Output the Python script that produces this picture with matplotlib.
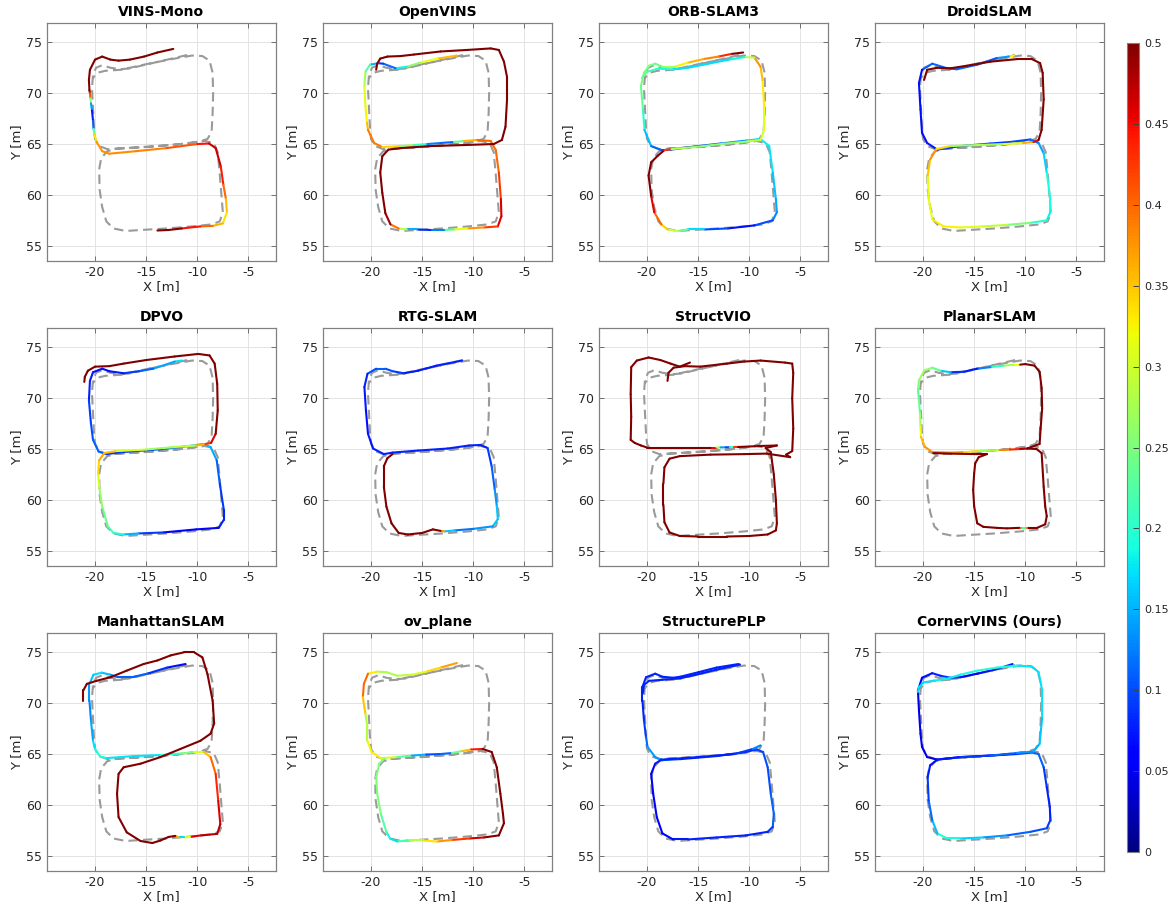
import numpy as np
import matplotlib
matplotlib.use("Agg")
import matplotlib.pyplot as plt
from matplotlib.collections import LineCollection
from matplotlib.colors import Normalize
from matplotlib.cm import ScalarMappable

plt.rcParams['font.family'] = ['DejaVu Sans']

NaN = float('nan')
BRK = (NaN, NaN, NaN)

titles = ["VINS-Mono", "OpenVINS", "ORB-SLAM3", "DroidSLAM",
          "DPVO", "RTG-SLAM", "StructVIO", "PlanarSLAM",
          "ManhattanSLAM", "ov_plane", "StructurePLP", "CornerVINS (Ours)"]

x_ticks = [-20, -15, -10, -5]
y_ticks = [55, 60, 65, 70, 75]
cbar_ticks = [0, 0.05, 0.1, 0.15, 0.2, 0.25, 0.3, 0.35, 0.4, 0.45, 0.5]
cbar_labels = ["0", "0.05", "0.1", "0.15", "0.2", "0.25", "0.3", "0.35", "0.4", "0.45", "0.5"]

# ground truth (dashed grey)
gt_x = [-11.0, -12.5, -14.0, -15.5, -16.5, -17.5, -18.5, -19.3, -19.9, -20.2, -20.3, -20.2, -20.1, -20.0,
        -19.6, -18.8, -17.0, -14.0, -11.0, -9.3, -8.4, -8.0, -7.8, -7.6, -7.5, -7.8, -8.6,
        -10.5, -13.0, -15.5, -17.0, -18.2, -18.9, -19.3, -19.55, -19.6, -19.4, -18.8, -17.8,
        -15.0, -12.0, -9.8, -9.0, -8.6, -8.5, -8.45, -8.5, -8.8, -9.5,
        -10.5, -12.5, -15.0, -17.5, -19.0, -19.8, -20.2]
gt_y = [73.75, 73.4, 73.05, 72.7, 72.45, 72.35, 72.5, 72.75, 72.5, 71.8, 70.5, 68.5, 66.5, 65.5,
        64.8, 64.5, 64.6, 64.8, 65.05, 65.3, 65.1, 64.2, 62.0, 59.5, 58.3, 57.4, 57.1,
        56.9, 56.7, 56.55, 56.45, 56.7, 57.4, 58.8, 60.5, 62.5, 63.6, 64.3, 64.55,
        64.7, 64.95, 65.25, 65.5, 66.2, 68.0, 70.0, 72.0, 73.2, 73.65,
        73.7, 73.35, 72.85, 72.3, 72.2, 72.0, 71.5]

# estimated trajectories: (x, y, error)
vins_mono = [(-12.35, 74.35, 0.55), (-13.9, 74.0, 0.55), (-15.2, 73.6, 0.55), (-16.6, 73.3, 0.55),
             (-17.7, 73.2, 0.55), (-18.5, 73.3, 0.55), (-19.3, 73.6, 0.55), (-20.0, 73.3, 0.55),
             (-20.5, 72.3, 0.55), (-20.6, 71.3, 0.55), (-20.55, 70.3, 0.52), (-20.5, 70.0, 0.5),
             (-20.45, 69.5, 0.32), (-20.4, 69.0, 0.2), (-20.3, 68.3, 0.08), (-20.2, 67.3, 0.07),
             (-20.15, 66.5, 0.15), (-20.05, 65.9, 0.3), (-19.85, 65.2, 0.37), (-19.3, 64.3, 0.38),
             (-18.6, 64.05, 0.38), (-16.0, 64.3, 0.38), (-13.0, 64.6, 0.39), (-10.0, 65.0, 0.43),
             (-8.85, 65.05, 0.46), (-8.2, 64.6, 0.47), (-7.7, 62.8, 0.46), (-7.45, 61.0, 0.42),
             (-7.2, 59.6, 0.38), (-7.1, 58.3, 0.33), (-7.5, 57.2, 0.34), (-8.5, 56.95, 0.38),
             (-9.7, 56.9, 0.42), (-11.5, 56.7, 0.47), (-12.8, 56.55, 0.52), (-13.9, 56.5, 0.55)]

openvins = [(-11.6, 73.7, 0.37), (-13.5, 73.4, 0.34), (-15.2, 73.0, 0.3), (-16.5, 72.6, 0.22),
            (-17.6, 72.45, 0.15), (-18.8, 72.9, 0.08), (-19.3, 72.95, 0.1), (-20.1, 72.8, 0.2),
            (-20.55, 72.1, 0.25), (-20.65, 70.7, 0.3), (-20.55, 68.7, 0.32), (-20.4, 67.1, 0.33),
            (-20.3, 66.4, 0.38), (-19.7, 65.1, 0.4), (-18.9, 64.7, 0.38), (-17.1, 64.8, 0.3),
            (-15.8, 64.9, 0.24), (-14.5, 65.0, 0.17), (-13.2, 65.1, 0.08), (-11.9, 65.2, 0.15),
            (-10.9, 65.3, 0.32), (-9.6, 65.4, 0.4), (-8.3, 65.3, 0.4), (-7.8, 64.4, 0.4),
            (-7.5, 62.2, 0.4), (-7.3, 59.6, 0.45), (-7.25, 57.9, 0.47), (-7.6, 56.9, 0.45),
            (-8.95, 56.8, 0.4), (-10.6, 56.7, 0.35), (-11.9, 56.6, 0.28), (-12.9, 56.55, 0.18),
            (-14.2, 56.55, 0.07), (-15.5, 56.6, 0.1), (-16.5, 56.6, 0.2), (-17.3, 56.7, 0.37),
            (-18.1, 57.1, 0.42), (-18.6, 58.2, 0.55), (-18.9, 60.2, 0.55), (-19.1, 62.2, 0.55),
            (-18.9, 63.8, 0.55), (-18.3, 64.45, 0.55), (-17.1, 64.6, 0.55), (-14.2, 64.8, 0.55),
            (-10.9, 64.9, 0.55), (-8.0, 65.0, 0.55), (-7.2, 65.4, 0.55), (-6.85, 66.7, 0.55),
            (-6.7, 69.35, 0.55), (-6.7, 71.6, 0.55), (-7.0, 73.1, 0.55), (-7.5, 74.25, 0.55),
            (-8.3, 74.4, 0.55), (-10.6, 74.25, 0.55), (-13.2, 74.1, 0.55), (-15.8, 73.8, 0.55),
            (-17.1, 73.65, 0.55), (-18.4, 73.6, 0.55), (-19.1, 73.4, 0.55), (-19.4, 72.9, 0.55),
            (-19.5, 72.3, 0.55)]

orb_slam3 = [(-10.6, 74.0, 0.55), (-11.8, 73.85, 0.47), (-13.0, 73.6, 0.4), (-14.5, 73.35, 0.37),
             (-16.0, 73.0, 0.35), (-17.3, 72.6, 0.3), (-18.5, 72.6, 0.25), (-19.2, 72.9, 0.24),
             (-19.8, 72.7, 0.25), (-20.3, 72.0, 0.25), (-20.6, 70.7, 0.25), (-20.4, 68.4, 0.22),
             (-20.25, 66.4, 0.18), (-19.6, 64.8, 0.13), (-18.6, 64.4, 0.1), (-17.65, 64.45, 0.1),
             (-15.4, 64.75, 0.08), (-12.8, 65.05, 0.1), (-10.2, 65.35, 0.16), (-8.9, 65.5, 0.18),
             (-8.05, 64.8, 0.18), (-7.7, 62.2, 0.17), (-7.4, 59.6, 0.15), (-7.3, 58.3, 0.14),
             (-7.7, 57.5, 0.12), (-9.5, 57.0, 0.08), (-12.1, 56.7, 0.06), (-14.4, 56.6, 0.14),
             (-16.0, 56.6, 0.2), (-17.0, 56.45, 0.27), (-18.0, 56.6, 0.32), (-18.6, 57.1, 0.37),
             (-19.3, 58.3, 0.43), (-19.6, 59.9, 0.48), (-19.85, 61.9, 0.55), (-19.6, 63.2, 0.55),
             (-18.95, 63.85, 0.55), (-18.3, 64.4, 0.55), (-17.6, 64.5, 0.3), (-15.4, 64.7, 0.26),
             (-12.8, 65.0, 0.25), (-10.2, 65.25, 0.27), (-8.9, 65.4, 0.3), (-8.55, 66.4, 0.3),
             (-8.55, 68.7, 0.32), (-8.7, 71.3, 0.34), (-8.9, 72.6, 0.37), (-9.5, 73.5, 0.38),
             (-10.5, 73.55, 0.2), (-12.0, 73.3, 0.17), (-14.0, 72.9, 0.17), (-16.0, 72.5, 0.17),
             (-17.5, 72.35, 0.18), (-19.0, 72.4, 0.2), (-20.0, 72.1, 0.22), (-20.5, 71.5, 0.25)]

droid_slam = [(-11.1, 73.7, 0.5), (-11.6, 73.6, 0.15), (-12.8, 73.45, 0.13), (-14.7, 72.8, 0.08),
              (-16.7, 72.35, 0.15), (-17.65, 72.45, 0.08), (-19.1, 72.9, 0.15), (-20.1, 72.3, 0.07),
              (-20.4, 71.0, 0.07), (-20.25, 68.4, 0.07), (-20.1, 66.1, 0.07), (-19.6, 65.1, 0.07),
              (-18.6, 64.45, 0.08), (-16.35, 64.8, 0.1), (-13.4, 65.05, 0.08), (-11.5, 65.2, 0.1),
              (-9.5, 65.45, 0.1), (-8.7, 65.1, 0.13), (-8.2, 64.1, 0.15), (-7.9, 62.2, 0.18),
              (-7.55, 59.6, 0.2), (-7.55, 58.3, 0.18), (-7.9, 57.5, 0.18), (-9.5, 57.25, 0.22),
              (-11.8, 57.05, 0.28), (-14.1, 56.9, 0.3), (-16.35, 56.8, 0.32), (-18.0, 56.9, 0.33),
              (-19.1, 57.6, 0.33), (-19.45, 59.6, 0.3), (-19.55, 61.9, 0.33), (-19.3, 63.5, 0.37),
              (-18.7, 64.5, 0.38), (-17.3, 64.8, 0.3), (-14.7, 64.9, 0.25), (-12.1, 65.0, 0.3),
              (-10.2, 65.1, 0.33), (-9.2, 65.2, 0.4), (-8.7, 65.4, 0.5), (-8.4, 66.4, 0.55),
              (-8.2, 69.4, 0.55), (-8.3, 72.0, 0.55), (-8.55, 72.95, 0.55), (-9.35, 73.35, 0.55),
              (-10.8, 73.35, 0.55), (-13.4, 73.1, 0.55), (-15.7, 72.7, 0.55), (-17.3, 72.45, 0.55),
              (-18.6, 72.5, 0.55), (-19.6, 72.3, 0.55), (-19.9, 71.3, 0.55)]

dpvo = [(-11.5, 73.7, 0.17), (-12.2, 73.6, 0.17), (-14.3, 72.9, 0.12), (-15.7, 72.65, 0.1),
        (-17.2, 72.45, 0.08), (-18.6, 72.65, 0.07), (-19.3, 72.9, 0.07), (-20.2, 72.55, 0.07),
        (-20.5, 71.7, 0.08), (-20.6, 69.8, 0.08), (-20.4, 67.5, 0.1), (-20.2, 65.9, 0.1),
        (-19.65, 64.75, 0.12), (-18.9, 64.5, 0.1), (-16.8, 64.75, 0.08), (-13.3, 65.0, 0.1),
        (-10.8, 65.3, 0.15), (-9.4, 65.5, 0.15), (-8.7, 65.2, 0.17), (-8.1, 63.9, 0.12),
        (-7.8, 61.6, 0.1), (-7.4, 59.0, 0.08), (-7.4, 58.05, 0.08), (-7.9, 57.25, 0.08),
        (-10.1, 57.1, 0.05), (-13.3, 56.8, 0.06), (-15.75, 56.7, 0.12), (-17.2, 56.6, 0.18),
        (-18.2, 56.75, 0.2), (-18.75, 57.4, 0.23), (-19.3, 59.35, 0.25), (-19.6, 61.3, 0.28),
        (-19.7, 62.6, 0.33), (-19.6, 63.9, 0.35), (-19.1, 64.6, 0.38), (-17.9, 64.8, 0.33),
        (-15.0, 64.95, 0.28), (-12.2, 65.2, 0.26), (-10.1, 65.35, 0.32), (-9.2, 65.5, 0.4),
        (-8.65, 65.6, 0.45), (-8.2, 66.5, 0.47), (-8.0, 68.8, 0.55), (-8.05, 71.4, 0.55),
        (-8.3, 73.4, 0.55), (-8.8, 74.2, 0.55), (-9.9, 74.35, 0.55), (-12.2, 74.1, 0.55),
        (-15.0, 73.75, 0.55), (-17.2, 73.4, 0.55), (-18.6, 73.15, 0.55), (-20.0, 73.1, 0.55),
        (-20.7, 72.7, 0.55), (-21.0, 72.1, 0.55), (-21.05, 71.6, 0.55)]

rtg_slam = [(-11.1, 73.7, 0.08), (-13.6, 73.2, 0.08), (-15.4, 72.7, 0.07), (-16.8, 72.45, 0.08),
            (-17.9, 72.65, 0.1), (-18.6, 72.9, 0.1), (-19.5, 72.9, 0.12), (-20.35, 72.4, 0.08),
            (-20.65, 71.1, 0.08), (-20.5, 68.8, 0.07), (-20.3, 66.5, 0.07), (-19.8, 65.05, 0.08),
            (-18.75, 64.5, 0.08), (-17.9, 64.65, 0.08), (-15.4, 64.85, 0.08), (-12.5, 65.05, 0.08),
            (-10.4, 65.35, 0.08), (-9.3, 65.4, 0.08), (-8.6, 65.1, 0.08), (-8.2, 63.3, 0.1),
            (-7.9, 61.0, 0.12), (-7.7, 59.4, 0.15), (-7.6, 58.1, 0.17), (-8.1, 57.4, 0.15),
            (-10.0, 57.15, 0.12), (-11.8, 57.0, 0.12), (-12.8, 56.9, 0.2), (-13.2, 56.95, 0.55),
            (-13.95, 57.1, 0.55), (-15.0, 56.75, 0.55), (-16.4, 56.6, 0.55), (-17.3, 56.75, 0.55),
            (-18.0, 57.7, 0.55), (-18.5, 59.35, 0.55), (-18.75, 61.3, 0.55), (-18.75, 63.3, 0.55),
            (-18.4, 64.1, 0.55), (-17.9, 64.5, 0.55)]

struct_vio = [(-15.8, 73.5, 0.55), (-16.8, 73.1, 0.55), (-17.7, 73.4, 0.55), (-18.7, 73.75, 0.55),
              (-19.85, 74.0, 0.55), (-21.0, 73.7, 0.55), (-21.55, 73.05, 0.55), (-21.6, 70.4, 0.55),
              (-21.55, 68.2, 0.55), (-21.6, 65.9, 0.55), (-21.2, 65.6, 0.55), (-20.6, 65.35, 0.55),
              (-20.0, 65.15, 0.55), (-17.1, 65.15, 0.55), (-13.6, 65.15, 0.55), (-13.2, 65.15, 0.35),
              (-12.8, 65.16, 0.2), (-12.3, 65.17, 0.08), (-11.9, 65.18, 0.12), (-11.5, 65.2, 0.3),
              (-11.1, 65.2, 0.55), (-8.9, 65.3, 0.55), (-7.3, 65.35, 0.55), (-8.4, 65.1, 0.55),
              (-7.9, 64.7, 0.55), (-7.6, 62.5, 0.55), (-7.4, 60.0, 0.55), (-7.3, 57.7, 0.55),
              (-7.4, 57.0, 0.55), (-8.2, 56.6, 0.55), (-10.0, 56.45, 0.55), (-12.2, 56.4, 0.55),
              (-15.0, 56.4, 0.55), (-16.8, 56.45, 0.55), (-17.8, 56.8, 0.55), (-18.3, 57.8, 0.55),
              (-18.4, 59.5, 0.55), (-18.4, 61.6, 0.55), (-18.3, 63.2, 0.55), (-17.8, 64.05, 0.55),
              (-16.8, 64.3, 0.55), (-13.8, 64.45, 0.55), (-10.5, 64.5, 0.55), (-8.3, 64.55, 0.55),
              (-6.0, 64.2, 0.55), (-6.4, 64.45, 0.55), (-5.8, 64.8, 0.55), (-5.7, 67.0, 0.55),
              (-5.8, 70.0, 0.55), (-5.7, 72.5, 0.55), (-5.8, 73.4, 0.55), (-6.5, 73.5, 0.55),
              (-8.9, 73.7, 0.55), (-10.5, 73.6, 0.55), (-12.2, 73.4, 0.55), (-14.8, 73.1, 0.55),
              (-16.3, 73.15, 0.55), (-17.4, 73.0, 0.55), (-17.9, 72.5, 0.55), (-18.0, 71.7, 0.55)]

planar_slam = [(-10.5, 73.3, 0.33), (-11.2, 73.3, 0.3), (-12.1, 73.2, 0.25), (-13.4, 73.05, 0.17),
               (-14.7, 72.9, 0.08), (-16.0, 72.6, 0.07), (-17.3, 72.55, 0.1), (-18.3, 72.7, 0.22),
               (-19.1, 73.0, 0.25), (-19.9, 72.7, 0.27), (-20.4, 71.75, 0.27), (-20.5, 70.8, 0.24),
               (-20.4, 69.8, 0.22), (-20.3, 68.5, 0.25), (-20.25, 67.2, 0.3), (-20.2, 66.2, 0.34),
               (-19.8, 65.2, 0.37), (-19.1, 64.7, 0.38), (-17.5, 64.65, 0.38), (-16.0, 64.7, 0.35),
               (-14.5, 64.8, 0.32), (-13.5, 64.85, 0.22), (-12.5, 64.9, 0.35), (-11.5, 64.95, 0.42),
               (-10.5, 65.0, 0.45), (-9.8, 65.05, 0.5), (-8.9, 65.0, 0.55), (-8.4, 64.6, 0.55),
               (-8.2, 61.3, 0.55), (-8.05, 59.35, 0.55), (-7.9, 58.4, 0.55), (-8.05, 57.6, 0.55),
               (-8.85, 57.25, 0.55), (-9.8, 57.25, 0.55), (-10.0, 57.25, 0.22), (-10.4, 57.25, 0.22),
               (-10.6, 57.25, 0.55), (-11.8, 57.2, 0.55), (-12.8, 57.25, 0.55), (-14.1, 57.35, 0.55),
               (-14.7, 57.7, 0.55), (-15.0, 59.35, 0.55), (-15.1, 61.0, 0.55), (-15.0, 62.6, 0.55),
               (-14.9, 63.6, 0.55), (-14.55, 64.2, 0.55), (-13.75, 64.5, 0.55), (-14.7, 64.5, 0.55),
               (-17.3, 64.55, 0.55), (-19.0, 64.6, 0.55), BRK,
               (-9.8, 65.05, 0.55), (-8.6, 65.5, 0.55), (-8.5, 67.0, 0.55), (-8.35, 69.0, 0.55),
               (-8.4, 71.0, 0.55), (-8.6, 72.6, 0.55), (-9.1, 73.2, 0.55), (-10.0, 73.35, 0.55),
               (-10.5, 73.3, 0.45)]

manhattan_slam = [(-11.15, 73.85, 0.07), (-12.95, 73.5, 0.07), (-14.9, 72.9, 0.1), (-16.2, 72.6, 0.12),
                  (-17.9, 72.6, 0.1), (-18.5, 72.8, 0.14), (-19.35, 73.0, 0.17), (-20.15, 72.8, 0.17),
                  (-20.55, 71.9, 0.15), (-20.55, 70.25, 0.13), (-20.4, 68.3, 0.13), (-20.2, 66.3, 0.16),
                  (-20.0, 65.5, 0.18), (-19.5, 64.75, 0.2), (-18.85, 64.6, 0.18), (-16.2, 64.8, 0.17),
                  (-13.6, 64.9, 0.18), (-11.65, 65.05, 0.22), (-10.3, 65.2, 0.28), (-9.35, 65.2, 0.33),
                  (-8.7, 64.7, 0.38), (-8.2, 63.05, 0.42), (-7.95, 60.4, 0.45), (-7.75, 58.1, 0.47),
                  (-8.05, 57.15, 0.48), (-9.65, 57.0, 0.47), (-10.7, 56.85, 0.45), (-11.3, 56.8, 0.17),
                  (-11.8, 56.8, 0.17), (-12.15, 56.95, 0.55), (-12.8, 56.85, 0.55), (-13.6, 56.5, 0.55),
                  (-14.4, 56.25, 0.55), (-15.55, 56.45, 0.55), (-16.9, 57.3, 0.55), (-17.7, 58.8, 0.55),
                  (-17.85, 61.1, 0.55), (-17.7, 63.05, 0.55), (-17.2, 63.7, 0.55), (-15.55, 64.05, 0.55),
                  (-13.6, 64.7, 0.55), (-11.65, 65.5, 0.55), (-9.7, 66.3, 0.55), (-8.7, 67.0, 0.55),
                  (-8.35, 68.0, 0.55), (-8.5, 70.25, 0.55), (-9.0, 72.85, 0.55), (-9.5, 74.5, 0.55),
                  (-10.3, 75.0, 0.55), (-11.3, 75.0, 0.55), (-12.6, 74.7, 0.55), (-13.9, 74.2, 0.55),
                  (-15.25, 73.85, 0.55), (-16.9, 73.2, 0.55), (-18.5, 72.55, 0.55), (-19.85, 72.2, 0.55),
                  (-20.8, 71.9, 0.55), (-21.15, 71.25, 0.55), (-21.15, 70.25, 0.55)]

ov_plane = [(-11.6, 73.95, 0.38), (-13.2, 73.5, 0.36), (-14.6, 73.1, 0.32), (-16.0, 72.8, 0.3),
            (-17.45, 72.7, 0.28), (-18.5, 73.05, 0.28), (-19.4, 73.1, 0.28), (-20.3, 72.9, 0.38),
            (-20.7, 71.9, 0.42), (-20.8, 70.6, 0.38), (-20.55, 68.95, 0.32), (-20.35, 67.65, 0.25),
            (-20.35, 66.3, 0.32), (-19.95, 65.2, 0.33), (-19.05, 64.6, 0.33), (-17.45, 64.7, 0.28),
            (-16.0, 64.85, 0.18), (-14.6, 64.95, 0.12), (-13.2, 65.0, 0.08), (-12.1, 65.1, 0.15),
            (-11.05, 65.3, 0.33), (-10.2, 65.45, 0.38), (-9.1, 65.5, 0.5), (-8.2, 65.2, 0.55),
            (-7.7, 63.7, 0.55), (-7.35, 61.1, 0.55), (-7.1, 59.15, 0.55), (-7.0, 58.2, 0.55),
            (-7.5, 57.0, 0.55), (-8.95, 56.8, 0.48), (-10.35, 56.7, 0.45), (-12.1, 56.55, 0.4),
            (-13.55, 56.4, 0.35), (-14.95, 56.5, 0.32), (-16.4, 56.5, 0.25), (-17.45, 56.4, 0.18),
            (-18.15, 56.7, 0.17), (-18.5, 57.35, 0.2), (-19.05, 59.15, 0.25), (-19.4, 61.1, 0.25),
            (-19.5, 62.75, 0.25), (-19.2, 64.05, 0.25), (-18.7, 64.55, 0.25)]

structure_plp = [(-11.05, 73.85, 0.08), (-13.2, 73.5, 0.08), (-14.95, 73.05, 0.08), (-16.75, 72.6, 0.08),
                 (-17.45, 72.5, 0.08), (-18.5, 72.6, 0.08), (-19.2, 72.9, 0.08), (-20.1, 72.55, 0.08),
                 (-20.45, 71.6, 0.08), (-20.45, 70.25, 0.08), (-20.3, 68.3, 0.08), (-20.1, 66.65, 0.1),
                 (-19.95, 65.7, 0.13), (-19.2, 64.7, 0.15), (-18.5, 64.4, 0.12), (-16.75, 64.5, 0.08),
                 (-13.2, 64.8, 0.08), (-10.35, 65.2, 0.08), (-9.3, 65.45, 0.09), (-8.65, 65.2, 0.1),
                 (-8.2, 63.7, 0.1), (-7.9, 61.1, 0.1), (-7.6, 59.15, 0.12), (-7.7, 57.85, 0.1),
                 (-8.2, 57.35, 0.08), (-10.35, 57.0, 0.08), (-13.2, 56.8, 0.08), (-16.0, 56.6, 0.08),
                 (-17.45, 56.6, 0.07), (-18.5, 57.2, 0.06), (-19.05, 58.8, 0.06), (-19.4, 61.1, 0.06),
                 (-19.6, 63.05, 0.06), (-19.2, 64.05, 0.07), (-18.6, 64.45, 0.08), (-14.95, 64.7, 0.08),
                 (-11.4, 65.0, 0.08), (-9.65, 65.5, 0.1), (-8.9, 65.85, 0.15), BRK,
                 (-10.9, 73.8, 0.08), (-13.2, 73.3, 0.08), (-15.0, 72.85, 0.08), (-16.75, 72.45, 0.08),
                 (-18.5, 72.3, 0.08), (-19.8, 72.2, 0.08), (-20.3, 71.8, 0.08), (-20.4, 71.0, 0.08)]

corner_vins = [(-11.25, 73.85, 0.08), (-12.8, 73.35, 0.08), (-14.7, 72.9, 0.06), (-16.35, 72.55, 0.07),
               (-17.3, 72.5, 0.1), (-18.3, 72.7, 0.08), (-19.1, 72.95, 0.08), (-20.1, 72.5, 0.06),
               (-20.5, 71.25, 0.05), (-20.4, 69.3, 0.04), (-20.25, 67.0, 0.05), (-20.1, 65.7, 0.05),
               (-19.6, 64.7, 0.05), (-18.6, 64.45, 0.05), (-16.35, 64.7, 0.06), (-13.4, 64.85, 0.07),
               (-10.8, 65.0, 0.08), (-9.35, 65.15, 0.1), (-8.7, 65.0, 0.12), (-8.2, 63.7, 0.1),
               (-7.9, 61.75, 0.08), (-7.6, 59.8, 0.08), (-7.55, 58.5, 0.08), (-7.9, 57.7, 0.1),
               (-9.5, 57.35, 0.1), (-11.8, 57.0, 0.12), (-14.1, 56.8, 0.15), (-16.35, 56.7, 0.18),
               (-17.65, 56.7, 0.2), (-18.6, 57.2, 0.18), (-19.1, 58.5, 0.13), (-19.45, 60.45, 0.1),
               (-19.55, 62.75, 0.08), (-19.3, 63.9, 0.07), (-18.6, 64.45, 0.07), (-16.35, 64.7, 0.08),
               (-13.4, 64.85, 0.1), (-10.8, 65.1, 0.12), (-9.2, 65.25, 0.15), (-8.6, 66.0, 0.15),
               (-8.35, 68.6, 0.17), (-8.35, 71.25, 0.18), (-8.7, 73.05, 0.17), (-9.35, 73.6, 0.17),
               (-10.8, 73.7, 0.18), (-12.75, 73.5, 0.2), (-14.7, 73.2, 0.2), (-16.35, 72.8, 0.18),
               (-17.65, 72.4, 0.18), (-18.95, 72.2, 0.18), (-19.95, 72.05, 0.17), (-20.4, 71.6, 0.17),
               (-20.5, 71.1, 0.17)]

methods = [vins_mono, openvins, orb_slam3, droid_slam, dpvo, rtg_slam,
           struct_vio, planar_slam, manhattan_slam, ov_plane, structure_plp, corner_vins]

# ---------------------------------------------------------------------------
TXT = '#262626'
norm = Normalize(vmin=0.0, vmax=0.5)
cmap = plt.get_cmap('jet')

W, H = 1168, 908
fig = plt.figure(figsize=(W / 100, H / 100), dpi=100)

col_left = [47, 323, 599, 875]
row_top = [23, 328, 633]
aw, ah = 229, 238


def draw_traj(ax, pts):
    arr = np.array(pts, dtype=float)
    segs, vals = [], []
    for a, b in zip(arr[:-1], arr[1:]):
        if np.isnan(a).any() or np.isnan(b).any():
            continue
        segs.append([a[:2], b[:2]])
        vals.append(0.5 * (a[2] + b[2]))
    lc = LineCollection(segs, cmap=cmap, norm=norm, linewidths=1.5,
                        capstyle='round', joinstyle='round', zorder=3)
    lc.set_array(np.array(vals))
    ax.add_collection(lc)


for i, (title, pts) in enumerate(zip(titles, methods)):
    r, c = divmod(i, 4)
    ax = fig.add_axes([col_left[c] / W, (H - row_top[r] - ah) / H, aw / W, ah / H])
    ax.plot(gt_x, gt_y, color='#9a9a9a', lw=1.5, dashes=(4.5, 2.5), zorder=2)
    draw_traj(ax, pts)
    ax.set_xlim(-24.7, -2.3)
    ax.set_ylim(53.5, 76.9)
    ax.set_xticks(x_ticks)
    ax.set_yticks(y_ticks)
    ax.set_xticklabels([str(v) for v in x_ticks])
    ax.set_yticklabels([str(v) for v in y_ticks])
    ax.grid(True, color='#e3e3e3', lw=0.7, zorder=0)
    ax.set_axisbelow(True)
    ax.tick_params(direction='in', length=3.5, width=0.7, colors='#707070',
                   labelcolor=TXT, labelsize=9, top=True, right=True)
    for s in ax.spines.values():
        s.set_color('#808080')
        s.set_linewidth(0.9)
    ax.set_title(title, fontsize=10, fontweight='bold', color='black', pad=5)
    ax.set_xlabel('X [m]', fontsize=9.5, color=TXT, labelpad=1)
    ax.set_ylabel('Y [m]', fontsize=9.5, color=TXT, labelpad=2)

cax = fig.add_axes([1127 / W, (H - 852) / H, 12 / W, 809 / H])
sm = ScalarMappable(norm=norm, cmap=cmap)
cb = fig.colorbar(sm, cax=cax, ticks=cbar_ticks)
cb.ax.set_yticklabels(cbar_labels)
cb.ax.tick_params(direction='in', length=4, width=0.7, colors='#404040',
                  labelcolor=TXT, labelsize=8, pad=4)
cb.outline.set_edgecolor('#808080')
cb.outline.set_linewidth(0.8)

fig.savefig('out.png', dpi=100)
